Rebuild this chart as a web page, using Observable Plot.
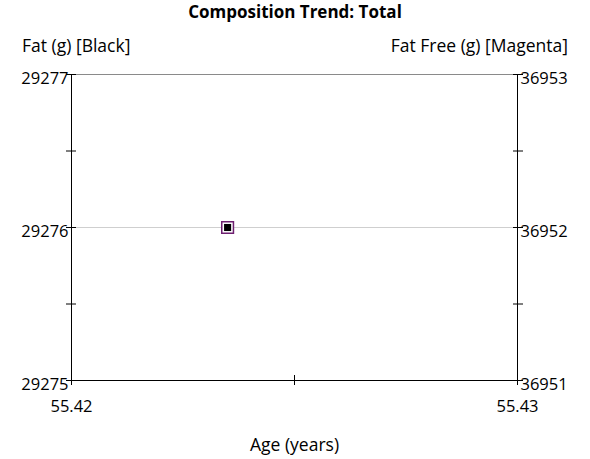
<!DOCTYPE html>
<html>
<head>
<meta charset="utf-8">
<script src="https://cdn.jsdelivr.net/npm/d3@7"></script>
<script src="https://cdn.jsdelivr.net/npm/@observablehq/plot@0.6"></script>
<style>
  html, body { margin: 0; padding: 0; background: #fff; }
  body { width: 590px; height: 459px; overflow: hidden; font-family: "Open Sans", sans-serif; color: #000; }
  .title { height: 24px; line-height: 24px; text-align: center; font-weight: bold; font-size: 17px; }
  .labels { height: 36px; box-sizing: border-box; padding: 11px 22px 0 22px; line-height: 20px; font-size: 17.5px; display: flex; justify-content: space-between; }
  svg { display: block; }
</style>
</head>
<body>
<div class="title">Composition Trend: Total</div>
<div class="labels"><span>Fat (g) [Black]</span><span>Fat Free (g) [Magenta]</span></div>
<div id="chart"></div>
<script>
// Data
const ages = [55.4235];
const fat = [29276];          // black series
const fatFree = [36952];      // magenta series

// Axes
const xDomain = [55.42, 55.43];
const xTickLabels = [55.42, 55.43];
const xTicksAll = [55.42, 55.425, 55.43];
const leftDomain = [29275, 29277];
const leftTickLabels = [29275, 29276, 29277];
const leftTicksAll = [29275, 29275.5, 29276, 29276.5, 29277];
const rightDomain = [36951, 36953];
const rightTickLabels = [36951, 36952, 36953];

const k = (leftDomain[1] - leftDomain[0]) / (rightDomain[1] - rightDomain[0]);
const toLeft = v => leftDomain[0] + (v - rightDomain[0]) * k;
const toRight = v => rightDomain[0] + (v - leftDomain[0]) / k;

const fatData = ages.map((a, i) => ({age: a, v: fat[i]}));
const ffData = ages.map((a, i) => ({age: a, v: toLeft(fatFree[i])}));

const plot = Plot.plot({
  width: 590,
  height: 399,
  marginTop: 14,
  marginBottom: 79,
  marginLeft: 71,
  marginRight: 73,
  style: {fontFamily: "'Open Sans', sans-serif", fontSize: "16.5px", color: "#000", background: "#fff"},
  x: {domain: xDomain},
  y: {domain: leftDomain},
  marks: [
    Plot.ruleY([leftTickLabels[1]], {stroke: "#cfcfcf", strokeWidth: 1}),
    Plot.ruleY([leftDomain[1]], {stroke: "#8a8a8a"}),
    Plot.ruleY([leftDomain[0]], {stroke: "#000"}),
    Plot.ruleX([xDomain[0]], {stroke: "#000"}),
    Plot.ruleX([xDomain[1]], {stroke: "#000"}),
    // crossing ticks
    Plot.axisY({ticks: leftTicksAll, anchor: "left", tickSize: 10, dx: 5, tickFormat: () => "", label: null}),
    Plot.axisY({ticks: leftTicksAll, anchor: "right", tickSize: 10, dx: -5, tickFormat: () => "", label: null}),
    Plot.axisX({ticks: xTicksAll, anchor: "bottom", tickSize: 10, dy: -5, tickFormat: () => "", label: null}),
    // labels
    Plot.axisY({ticks: leftTickLabels, anchor: "left", tickSize: 0, tickPadding: 3, dy: 4, tickFormat: d => String(d), label: null, fill: "#000"}),
    Plot.axisY({ticks: leftTickLabels, anchor: "right", tickSize: 0, tickPadding: 3, dy: 4, tickFormat: d => String(Math.round(toRight(d))), label: null, fill: "#000"}),
    Plot.axisX({ticks: xTickLabels, anchor: "bottom", tickSize: 0, tickPadding: 20, tickFormat: d => d.toFixed(2), label: null, fill: "#000"}),
    Plot.text(["Age (years)"], {frameAnchor: "bottom", dy: 70, fill: "#000", fontSize: 17.5}),
    // series
    Plot.dot(ffData, {x: "age", y: "v", symbol: "square", r: 6.6, stroke: "#6e2070", strokeWidth: 1.5, fill: "#fff"}),
    Plot.dot(fatData, {x: "age", y: "v", symbol: "square", r: 4, fill: "#000", stroke: "none"})
  ]
});
document.getElementById("chart").appendChild(plot);
</script>
</body>
</html>
